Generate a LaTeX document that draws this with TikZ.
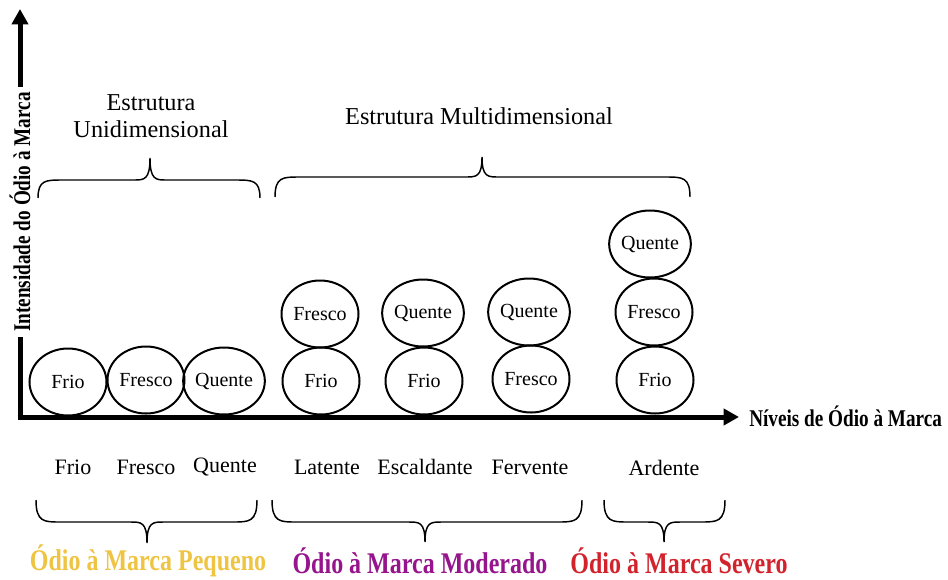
\documentclass[tikz,border=0pt]{standalone}
\usepackage{fontspec}
\setmainfont{Liberation Serif}
\newfontfamily\condbf[FakeStretch=0.8]{Liberation Serif Bold}
\usetikzlibrary{arrows.meta,shapes.geometric}

\definecolor{pequeno}{RGB}{238,196,66}
\definecolor{moderado}{RGB}{150,20,140}
\definecolor{severo}{RGB}{210,35,45}

% horizontal curly brace: #1 left end x, #2 right end x, #3 tip x,
% #4 end y, #5 flat y, #6 tip y
\newcommand\curlybrace[6]{%
  \draw[bracestyle] (#1,#4) .. controls (#1,#5) and (#1+8,#5) .. (#1+24,#5)
    -- (#3-16,#5) .. controls (#3-6,#5) and (#3,#5) .. (#3,#6)
    .. controls (#3,#5) and (#3+6,#5) .. (#3+16,#5)
    -- (#2-24,#5) .. controls (#2-8,#5) and (#2,#5) .. (#2,#4);}

\begin{document}
\begin{tikzpicture}[x=0.75pt,y=-0.75pt,
  axis/.style={line width=3.75pt,-{Triangle[length=11.5pt,width=12pt]}},
  level/.style={draw,ellipse,line width=1.5pt,minimum width=57.75pt,
    minimum height=50.25pt,inner sep=0pt,font=\fontsize{15}{18}\selectfont},
  bracestyle/.style={line width=1.1pt},
  title/.style={align=center,font=\fontsize{18.2}{20.5}\selectfont},
  tick/.style={font=\fontsize{16.5}{19}\selectfont},
  axislabel/.style={font=\condbf\fontsize{18}{20}\selectfont},
  group/.style={inner sep=0pt,font=\condbf\fontsize{22.5}{26}\selectfont}]
\useasboundingbox (0,0) rectangle (948,579);

% axes
\coordinate (origin) at (20,420);
\coordinate (ytop) at (20,9);
\coordinate (xend) at (739,417);
\draw[axis] (origin) -- (ytop);
\draw[axis] ([xshift=-1.8pt]origin |- xend) -- (xend);
\node[axislabel,rotate=90,fill=white,inner sep=4pt] (ylab) at (20,212)
  {Intensidade do Ódio à Marca};
\node[axislabel,anchor=west,inner sep=0pt] (xlab) at (749,416)
  {Níveis de Ódio à Marca};

% single-dimension levels
\node[level] (u1) at (68,382) {Frio};
\node[level] (u2) at (146,380) {Fresco};
\node[level] (u3) at (224,381) {Quente};

% multi-dimension levels
\node[level] (la1) at (321,381) {Frio};
\node[level] (la2) at (320,314) {Fresco};
\node[level] (es1) at (424,381) {Frio};
\node[level] (es2) at (423,313) {Quente};
\node[level] (fe1) at (531,379) {Fresco};
\node[level] (fe2) at (529,312) {Quente};
\node[level] (ar1) at (655,380) {Frio};
\node[level] (ar2) at (654,312) {Fresco};
\node[level] (ar3) at (650,244) {Quente};

% structure titles and braces
\node[title] (tuni) at (151,116) {Estrutura\\Unidimensional};
\node[title] (tmulti) at (479,116) {Estrutura Multidimensional};
\curlybrace{38}{260}{150}{198}{180}{158}
\curlybrace{275}{690}{482}{197}{177}{157}

% level names along the horizontal axis
\node[tick] (n1) at (73,467) {Frio};
\node[tick] (n2) at (146,467) {Fresco};
\node[tick] (n3) at (225,467) {Quente};
\node[tick] (n4) at (327,467) {Latente};
\node[tick] (n5) at (425,467) {Escaldante};
\node[tick] (n6) at (530,467) {Fervente};
\node[tick] (n7) at (664,468) {Ardente};

% groups of brand hate
\curlybrace{36}{257}{147}{500}{522}{543}
\curlybrace{272}{582}{425}{500}{522}{542}
\curlybrace{604}{725}{664}{500}{522}{542}
\node[group,text=pequeno] (g1) at (148,561) {Ódio à Marca Pequeno};
\node[group,text=moderado] (g2) at (420,561) {Ódio à Marca Moderado};
\node[group,text=severo] (g3) at (679,561) {Ódio à Marca Severo};
\end{tikzpicture}
\end{document}
